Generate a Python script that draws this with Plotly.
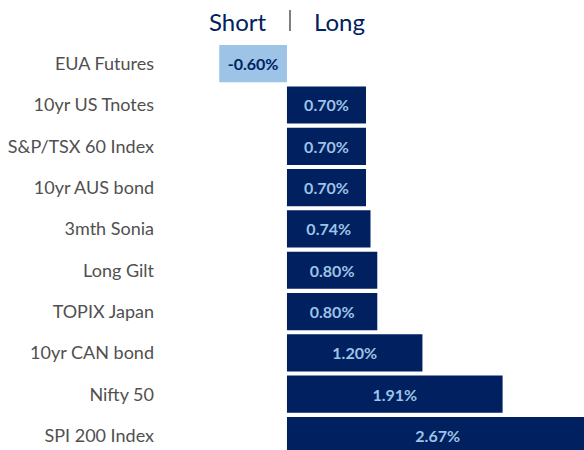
import plotly.graph_objects as go

categories = ["EUA Futures", "10yr US Tnotes", "S&P/TSX 60 Index", "10yr AUS bond",
              "3mth Sonia", "Long Gilt", "TOPIX Japan", "10yr CAN bond", "Nifty 50", "SPI 200 Index"]
values = [-0.60, 0.70, 0.70, 0.70, 0.74, 0.80, 0.80, 1.20, 1.91, 2.67]

NAVY = "#002060"
LIGHT = "#9DC3E6"

bar_colors = [LIGHT if v < 0 else NAVY for v in values]
text_colors = [NAVY if v < 0 else LIGHT for v in values]
labels = [f"{v:.2f}%" for v in values]

W, H = 584, 450
pl, pt = 163, 43
pw, ph = W - pl, H - pt

fig = go.Figure(go.Bar(
    y=categories, x=values, orientation="h",
    marker=dict(color=bar_colors, line=dict(width=0)),
    text=labels, textposition="inside", insidetextanchor="middle",
    textfont=dict(family="Lato", size=16, color=text_colors, weight="bold"),
    textangle=0, width=0.9, cliponaxis=True,
))

fig.update_layout(
    width=W, height=H,
    margin=dict(l=pl, r=0, t=pt, b=0, pad=0),
    paper_bgcolor="white", plot_bgcolor="white",
    showlegend=False,
    xaxis=dict(range=[-1.098, 2.631], visible=False, fixedrange=True),
    yaxis=dict(range=[9.35, -0.5], showgrid=False, zeroline=False, showline=False,
               ticks="", ticklabelstandoff=8, fixedrange=True,
               tickfont=dict(family="Lato", size=18, color="#505050")),
    font=dict(family="Lato"),
)

def px(x): return (x - pl) / pw
def py(y): return 1 - (y - pt) / ph

fig.add_annotation(text="Short", x=px(238), y=py(22), xref="paper", yref="paper",
                   showarrow=False, xanchor="center", yanchor="middle",
                   font=dict(size=24, color=NAVY, family="Lato"))
fig.add_annotation(text="Long", x=px(339), y=py(22), xref="paper", yref="paper",
                   showarrow=False, xanchor="center", yanchor="middle",
                   font=dict(size=24, color=NAVY, family="Lato"))
fig.add_shape(type="line", xref="paper", yref="paper", x0=px(290), x1=px(290),
              y0=py(10), y1=py(31), line=dict(color="#808080", width=2))

fig.write_html("out.html", config={"displayModeBar": False},
               post_script="document.body.style.margin='0';document.body.style.overflow='hidden';")
